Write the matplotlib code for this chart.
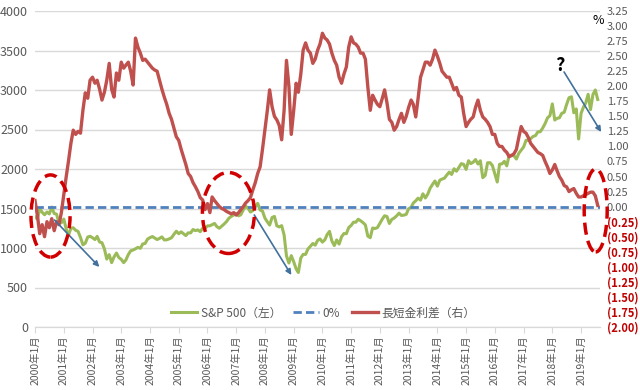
import matplotlib
matplotlib.use("Agg")
import matplotlib.pyplot as plt
import matplotlib.dates as mdates
from matplotlib.patches import Ellipse
import pandas as pd

plt.rcParams['font.family'] = ['Noto Sans CJK JP', 'DejaVu Sans']

# monthly values, Jan 2000 .. Aug 2019
sp500 = [
    1394, 1366, 1499, 1452, 1421, 1455, 1431, 1518, 1437, 1429, 1315, 1320,
    1366, 1240, 1160, 1249, 1256, 1224, 1211, 1134, 1041, 1060, 1139, 1148,
    1130, 1107, 1147, 1076, 1067, 990, 860, 916, 815, 886, 936, 880,
    856, 815, 848, 917, 964, 975, 990, 1008, 996, 1051, 1058, 1112,
    1131, 1145, 1126, 1107, 1121, 1141, 1102, 1104, 1115, 1130, 1174, 1212,
    1181, 1204, 1181, 1157, 1192, 1191, 1234, 1220, 1229, 1207, 1249, 1248,
    1280, 1281, 1295, 1311, 1270, 1250, 1277, 1304, 1336, 1378, 1401, 1418,
    1438, 1407, 1421, 1482, 1531, 1503, 1455, 1474, 1527, 1565, 1481, 1468,
    1379, 1331, 1290, 1386, 1400, 1280, 1267, 1283, 1165, 900, 810, 903,
    826, 735, 690, 873, 919, 919, 987, 1021, 1057, 1036, 1096, 1115,
    1074, 1104, 1169, 1210, 1089, 1031, 1102, 1049, 1141, 1183, 1181, 1258,
    1286, 1327, 1326, 1364, 1345, 1321, 1292, 1150, 1131, 1253, 1247, 1258,
    1312, 1366, 1408, 1398, 1310, 1362, 1379, 1407, 1441, 1412, 1416, 1426,
    1498, 1515, 1569, 1598, 1631, 1606, 1686, 1633, 1682, 1757, 1806, 1848,
    1783, 1859, 1872, 1884, 1924, 1960, 1931, 2003, 1972, 2018, 2068, 2059,
    1995, 2105, 2068, 2086, 2120, 2063, 2104, 1890, 1920, 2079, 2080, 2044,
    1940, 1835, 2060, 2065, 2097, 2040, 2174, 2171, 2168, 2126, 2199, 2239,
    2279, 2364, 2363, 2384, 2412, 2423, 2470, 2472, 2519, 2575, 2648, 2674,
    2824, 2620, 2641, 2648, 2705, 2718, 2816, 2902, 2914, 2712, 2760, 2380,
    2704, 2784, 2834, 2946, 2752, 2942, 3000, 2880,
]
spread = [
    0.10, -0.15, -0.45, -0.30, -0.50, -0.25, -0.35, -0.20, -0.40, -0.25, -0.30, -0.10,
    0.20, 0.50, 0.75, 1.05, 1.27, 1.20, 1.25, 1.22, 1.60, 1.89, 1.80, 2.10,
    2.15, 2.05, 2.10, 1.95, 1.77, 1.90, 2.10, 2.38, 1.95, 1.82, 2.22, 2.10,
    2.40, 2.30, 2.35, 2.40, 2.25, 2.02, 2.80, 2.65, 2.55, 2.43, 2.45, 2.40,
    2.35, 2.30, 2.27, 2.25, 2.10, 1.95, 1.82, 1.70, 1.55, 1.45, 1.30, 1.16,
    1.10, 0.95, 0.83, 0.70, 0.55, 0.50, 0.40, 0.33, 0.25, 0.15, 0.11, -0.05,
    0.05, -0.10, 0.16, 0.10, 0.05, 0.00, -0.03, -0.05, -0.08, -0.10, -0.12, -0.10,
    -0.14, -0.10, -0.05, 0.00, 0.06, 0.10, 0.15, 0.28, 0.40, 0.55, 0.66, 0.95,
    1.27, 1.60, 1.94, 1.66, 1.50, 1.44, 1.35, 1.11, 1.60, 2.43, 2.00, 1.20,
    1.60, 2.05, 1.90, 2.20, 2.60, 2.72, 2.60, 2.55, 2.38, 2.45, 2.60, 2.70,
    2.88, 2.80, 2.77, 2.70, 2.55, 2.43, 2.35, 2.15, 2.05, 2.20, 2.32, 2.65,
    2.82, 2.72, 2.70, 2.65, 2.55, 2.55, 2.45, 1.99, 1.60, 1.85, 1.77, 1.70,
    1.66, 1.80, 1.94, 1.72, 1.45, 1.40, 1.27, 1.33, 1.45, 1.55, 1.40, 1.50,
    1.65, 1.77, 1.70, 1.49, 1.80, 2.15, 2.27, 2.40, 2.40, 2.35, 2.45, 2.60,
    2.50, 2.38, 2.25, 2.20, 2.15, 2.15, 2.05, 1.94, 1.98, 1.85, 1.82, 1.55,
    1.33, 1.40, 1.45, 1.49, 1.65, 1.77, 1.60, 1.49, 1.45, 1.40, 1.33, 1.20,
    1.20, 1.05, 1.00, 1.00, 0.94, 0.90, 0.83, 0.85, 0.88, 0.95, 1.15, 1.33,
    1.25, 1.22, 1.15, 1.05, 1.00, 0.95, 0.90, 0.88, 0.85, 0.75, 0.66, 0.55,
    0.61, 0.70, 0.60, 0.50, 0.44, 0.35, 0.33, 0.25, 0.28, 0.30, 0.22, 0.16,
    0.16, 0.18, 0.20, 0.22, 0.24, 0.24, 0.18, 0.02,
]
dates = pd.date_range("2000-01-01", periods=len(sp500), freq="MS")
years = list(range(2000, 2020))
xlabels = [f"{y}年1月" for y in years]
left_ticks = list(range(0, 4001, 500))
right_ticks = [i * 0.25 for i in range(-8, 14)]


def yr(f):
    return mdates.date2num(pd.Timestamp("2000-01-01") + pd.Timedelta(days=(f - 2000) * 365.25))


fig = plt.figure(figsize=(6.4, 3.9), dpi=100)
ax = fig.add_axes([35 / 640, 63 / 390, 565 / 640, 316 / 390])
ax2 = ax.twinx()

l1, = ax.plot(dates, sp500, color="#9BBB59", lw=2.2, label="S&P 500（左）")
l2 = ax2.axhline(0, color="#4F81BD", lw=2, ls=(0, (3, 1.5)), label="0%")
l3, = ax2.plot(dates, spread, color="#C0504D", lw=2.4, label="長短金利差（右）")

ax.set_ylim(0, 4000)
ax2.set_ylim(-2, 3.25)
ax.set_xlim(yr(2000.0), yr(2019.66))
ax.set_yticks(left_ticks)
ax.grid(axis="y", color="#D9D9D9", lw=1)
ax.set_axisbelow(True)
ax.tick_params(axis="y", length=0, labelsize=9, colors="#595959", pad=5)

ax.set_xticks([pd.Timestamp(f"{y}-01-01") for y in years])
ax.set_xticklabels(xlabels, rotation=90, fontsize=7.5, color="#595959")
ax.tick_params(axis="x", length=4, color="#D9D9D9", pad=2)

ax2.set_yticks(right_ticks)
ax2.set_yticklabels([f"{v:.2f}" if v >= 0 else f"({-v:.2f})" for v in right_ticks])
ax2.tick_params(axis="y", length=0, labelsize=8, pad=5)
for t, v in zip(ax2.get_yticklabels(), right_ticks):
    if v < 0:
        t.set_color("#C00000")
        t.set_fontweight("bold")
    else:
        t.set_color("#595959")

for a in (ax, ax2):
    for s in ("top", "left", "right"):
        a.spines[s].set_visible(False)
    a.spines["bottom"].set_color("#D9D9D9")

ax2.legend([l1, l2, l3], [l1.get_label(), l2.get_label(), l3.get_label()],
           loc="lower center", bbox_to_anchor=(0.51, -0.01), ncol=3, frameon=False,
           fontsize=8.5, handlelength=2.2, columnspacing=1.0, handletextpad=0.3,
           labelcolor="#595959")

fig.text(598 / 640, 1 - 20 / 390, "%", fontsize=9, ha="center", va="center")

# annotations (drawn on the top axes, placed in left-axis units)
for cx, cy, w, h in [(2000.54, 1405, 1.36, 1040), (2006.73, 1443, 1.81, 1025),
                     (2019.51, 1475, 0.8, 1050)]:
    e = Ellipse((yr(cx), cy), yr(cx + w) - yr(cx), h, fill=False, ec="#D00000",
                lw=2.5, ls=(0, (3.5, 1.8)), clip_on=False, zorder=5,
                transform=ax.transData)
    ax2.add_patch(e)

for x0, y0, x1, y1 in [(2000.68, 1354, 2002.24, 760), (2007.63, 1418, 2008.92, 658),
                       (2018.41, 3228, 2019.7, 2468)]:
    ax2.annotate("", xy=(yr(x1), y1), xytext=(yr(x0), y0), xycoords=ax.transData,
                 textcoords=ax.transData, annotation_clip=False,
                 arrowprops=dict(arrowstyle="-|>", color="#41719C", lw=1.2,
                                 mutation_scale=8, shrinkA=0, shrinkB=0))
ax2.text(yr(2018.27), 3316, "?", fontsize=13, fontweight="bold", ha="center",
         va="center", transform=ax.transData)

fig.savefig("out.png", dpi=100)
